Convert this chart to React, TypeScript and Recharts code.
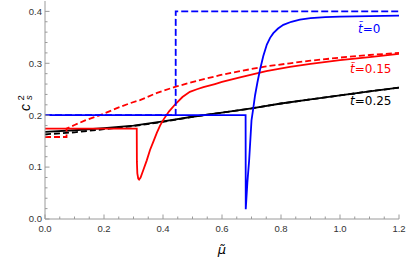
import React from 'react';
import { LineChart, Line, XAxis, YAxis } from 'recharts';

// x ticks (major every 0.2, minor every 0.05)
const xTicks = [0, 0.05, 0.1, 0.15, 0.2, 0.25, 0.3, 0.35, 0.4, 0.45, 0.5, 0.55, 0.6, 0.65, 0.7, 0.75, 0.8, 0.85, 0.9, 0.95, 1.0, 1.05, 1.1, 1.15, 1.2];
// y ticks (major every 0.1, minor every 0.02)
const yTicks = [0, 0.02, 0.04, 0.06, 0.08, 0.1, 0.12, 0.14, 0.16, 0.18, 0.2, 0.22, 0.24, 0.26, 0.28, 0.3, 0.32, 0.34, 0.36, 0.38, 0.4];

// t = 0
const blueSolid: number[][] = [
  [0, 0.2], [0.68, 0.2], [0.6805, 0.019], [0.686, 0.07], [0.692, 0.113], [0.7, 0.19], [0.706, 0.213],
  [0.712, 0.238], [0.72, 0.263], [0.729, 0.288], [0.74, 0.314], [0.752, 0.336], [0.763, 0.349],
  [0.774, 0.358], [0.79, 0.367], [0.808, 0.374], [0.835, 0.38], [0.864, 0.384], [0.9, 0.387],
  [0.95, 0.389], [1.0, 0.39], [1.1, 0.391], [1.2, 0.392],
];
const blueDashed: number[][] = [[0, 0.2], [0.443, 0.2], [0.4431, 0.4], [1.2, 0.4]];

// t = 0.15
const redSolid: number[][] = [
  [0, 0.174], [0.311, 0.174], [0.3115, 0.11], [0.313, 0.088], [0.316, 0.078], [0.319, 0.076],
  [0.324, 0.08], [0.333, 0.094], [0.345, 0.113], [0.356, 0.133], [0.368, 0.15], [0.379, 0.166],
  [0.39, 0.18], [0.401, 0.191], [0.42, 0.207], [0.443, 0.222], [0.466, 0.235], [0.491, 0.245],
  [0.515, 0.25], [0.537, 0.254], [0.576, 0.26], [0.6, 0.264], [0.661, 0.273], [0.75, 0.285],
  [0.83, 0.293], [0.9, 0.299], [1.0, 0.306], [1.1, 0.312], [1.2, 0.318],
];
const redDashed: number[][] = [
  [0, 0.158], [0.073, 0.158], [0.0731, 0.174], [0.1, 0.181], [0.136, 0.19], [0.2, 0.203],
  [0.25, 0.215], [0.288, 0.223], [0.322, 0.229], [0.38, 0.243], [0.443, 0.255], [0.52, 0.267],
  [0.593, 0.277], [0.661, 0.285], [0.75, 0.294], [0.83, 0.3], [0.9, 0.305], [1.0, 0.311],
  [1.1, 0.316], [1.2, 0.32],
];

// t = 0.25
const blackSolid: number[][] = [
  [0, 0.168], [0.1, 0.171], [0.2, 0.175], [0.3, 0.18], [0.4, 0.188], [0.5, 0.197], [0.6, 0.205],
  [0.7, 0.213], [0.8, 0.2225], [0.9, 0.2305], [1.0, 0.238], [1.1, 0.246], [1.2, 0.253],
];
const blackDashed: number[][] = [
  [0, 0.163], [0.1, 0.167], [0.2, 0.173], [0.3, 0.179], [0.4, 0.187], [0.5, 0.197], [0.6, 0.205],
  [0.7, 0.213], [0.8, 0.2225], [0.9, 0.2305], [1.0, 0.238], [1.1, 0.246], [1.2, 0.253],
];

const toPts = (a: number[][]) => a.map(([x, y]) => ({ x, y }));

const FRAME = '#9a9a9a';
const LABEL = '#333';
const FONT = '"Liberation Sans", Arial, sans-serif';
const DV = '"DejaVu Sans", sans-serif';
const BLUE = '#0000ff';
const RED = '#ff0000';
const SW = 1.8;

const isMajor = (v: number, step: number) => {
  const r = v / step;
  return Math.abs(r - Math.round(r)) < 1e-6;
};

const makeXTick = (orient: 'top' | 'bottom') => (props: any) => {
  const { x, y, payload } = props;
  const v = payload.value as number;
  const major = isMajor(v, 0.2);
  const len = major ? 4.5 : 2.5;
  const dir = orient === 'bottom' ? -1 : 1;
  return (
    <g>
      <line x1={x} x2={x} y1={y} y2={y + dir * len} stroke={FRAME} strokeWidth={1} />
      {orient === 'bottom' && major ? (
        <text x={x} y={y + 13} textAnchor="middle" fontSize={9.5} fill={LABEL} fontFamily={FONT}>
          {v.toFixed(1)}
        </text>
      ) : null}
    </g>
  );
};

const makeYTick = (orient: 'left' | 'right') => (props: any) => {
  const { x, y, payload } = props;
  const v = payload.value as number;
  const major = isMajor(v, 0.1);
  const len = major ? 4.5 : 2.5;
  const dir = orient === 'left' ? 1 : -1;
  return (
    <g>
      <line x1={x} x2={x + dir * len} y1={y} y2={y} stroke={FRAME} strokeWidth={1} />
      {orient === 'left' && major ? (
        <text x={x - 3} y={y + 3.4} textAnchor="end" fontSize={9.5} fill={LABEL} fontFamily={FONT}>
          {v.toFixed(1)}
        </text>
      ) : null}
    </g>
  );
};

export default function App() {
  return (
    <div style={{ position: 'fixed', left: 0, top: 0, width: 407, height: 259, background: '#fff' }}>
      <LineChart width={407} height={259} margin={{ top: 1, right: 8, bottom: 0, left: 0 }}>
        <XAxis
          type="number" dataKey="x" domain={[0, 1.2]} allowDataOverflow ticks={xTicks} interval={0}
          tickSize={0} tickMargin={0} tickLine={false} tick={makeXTick('bottom')} height={40}
          axisLine={{ stroke: FRAME }}
        />
        <XAxis
          xAxisId="top" orientation="top" type="number" dataKey="x" domain={[0, 1.2]} allowDataOverflow
          ticks={xTicks} interval={0} tickSize={0} tickMargin={0} tickLine={false} tick={makeXTick('top')}
          height={0} axisLine={{ stroke: FRAME }}
        />
        <YAxis
          type="number" domain={[0, 0.42]} allowDataOverflow ticks={yTicks} interval={0}
          tickSize={0} tickMargin={0} tickLine={false} tick={makeYTick('left')} width={45}
          axisLine={{ stroke: FRAME }}
        />
        <YAxis
          yAxisId="right" orientation="right" type="number" domain={[0, 0.42]} allowDataOverflow
          ticks={yTicks} interval={0} tickSize={0} tickMargin={0} tickLine={false} tick={makeYTick('right')}
          width={0} axisLine={{ stroke: FRAME }}
        />
        <Line data={toPts(blackDashed)} dataKey="y" type="linear" stroke="#000" strokeWidth={SW} strokeDasharray="6 3" dot={false} isAnimationActive={false} />
        <Line data={toPts(blackSolid)} dataKey="y" type="linear" stroke="#000" strokeWidth={SW} dot={false} isAnimationActive={false} />
        <Line data={toPts(redDashed)} dataKey="y" type="linear" stroke={RED} strokeWidth={SW} strokeDasharray="6 3" dot={false} isAnimationActive={false} />
        <Line data={toPts(redSolid)} dataKey="y" type="linear" stroke={RED} strokeWidth={SW} dot={false} isAnimationActive={false} />
        <Line data={toPts(blueDashed)} dataKey="y" type="linear" stroke={BLUE} strokeWidth={SW} strokeDasharray="7 3" dot={false} isAnimationActive={false} />
        <Line data={toPts(blueSolid)} dataKey="y" type="linear" stroke={BLUE} strokeWidth={SW} dot={false} isAnimationActive={false} />
      </LineChart>
      <svg width={407} height={259} style={{ position: 'absolute', left: 0, top: 0, pointerEvents: 'none' }}>
        <text x={358} y={32.5} fontSize={12} fill={BLUE} fontFamily={DV}>
          <tspan fontStyle="italic">{'t\u0303'}</tspan>=0
        </text>
        <text x={350} y={72.7} fontSize={12} fill={RED} fontFamily={DV}>
          <tspan fontStyle="italic">{'t\u0303'}</tspan>=0.15
        </text>
        <text x={350} y={105} fontSize={12} fill="#000" fontFamily={DV}>
          <tspan fontStyle="italic">{'t\u0303'}</tspan>=0.25
        </text>
        <text x={222} y={254} fontSize={13} fill="#000" fontFamily={DV} fontStyle="italic" textAnchor="middle">
          {'\u03BC\u0303'}
        </text>
        <text x={30} y={111} transform="rotate(-90, 30, 111)" fontSize={14} fill="#000" fontFamily={FONT} fontStyle="italic">c</text>
        <text x={23.5} y={100.5} transform="rotate(-90, 23.5, 100.5)" fontSize={9.5} fill="#000" fontFamily={FONT}>2</text>
        <text x={32} y={100} transform="rotate(-90, 32, 100)" fontSize={9.5} fill="#000" fontFamily={FONT} fontStyle="italic">s</text>
      </svg>
    </div>
  );
}
